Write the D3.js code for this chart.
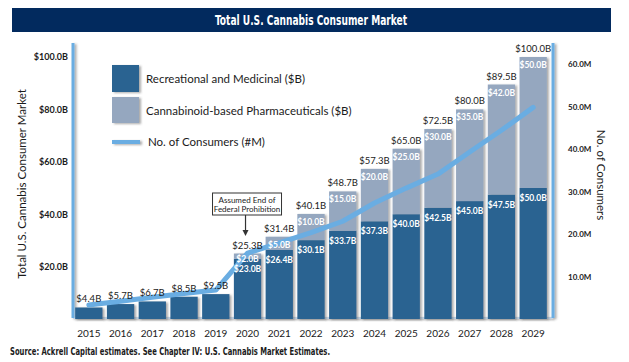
<!DOCTYPE html>
<html>
<head>
<meta charset="utf-8">
<script src="https://cdn.jsdelivr.net/npm/d3@7"></script>
<style>
  html, body { margin: 0; padding: 0; background: #fff; }
  svg { display: block; }
</style>
</head>
<body>
<div id="chart"></div>
<script>
// ─── DATA ───
const years = ['2015', '2016', '2017', '2018', '2019', '2020', '2021', '2022',
               '2023', '2024', '2025', '2026', '2027', '2028', '2029'];
const recValues = [4.4, 5.7, 6.7, 8.5, 9.5, 23.0, 26.4, 30.1, 33.7, 37.3, 40.0, 42.5, 45.0, 47.5, 50.0];
const pharmaValues = [0, 0, 0, 0, 0, 2.0, 5.0, 10.0, 15.0, 20.0, 25.0, 30.0, 35.0, 42.0, 50.0];
const totalValues = [4.4, 5.7, 6.7, 8.5, 9.5, 25.3, 31.4, 40.1, 48.7, 57.3, 65.0, 72.5, 80.0, 89.5, 100.0];
const consumers = [3.3, 4.2, 5.1, 6.0, 6.8, 15.5, 17.9, 20.3, 23.0, 27.3, 30.8, 34.1, 39.3, 44.4, 49.8];
const leftTicks = [20, 40, 60, 80, 100];
const rightTicks = [10, 20, 30, 40, 50, 60];
const legendItems = ['Recreational and Medicinal ($B)', 'Cannabinoid-based Pharmaceuticals ($B)', 'No. of Consumers (#M)'];
const annotationLines = ['Assumed End of', 'Federal Prohibition'];
const annotationYear = '2020';

const W = 629, H = 362;
const colRec = '#2b6391', colPharma = '#95a7bf', colLine = '#6aade2', colText = '#1b1b1b';
const font = 'Lato, "Open Sans", sans-serif';
const condensed = '"Liberation Sans Narrow", "DejaVu Sans Condensed", sans-serif';

const svg = d3.select('#chart').append('svg').attr('width', W).attr('height', H);

const defs = svg.append('defs');
const shadow = defs.append('filter').attr('id', 'shadow')
    .attr('filterUnits', 'userSpaceOnUse').attr('x', 0).attr('y', 0).attr('width', W).attr('height', H);
shadow.append('feDropShadow').attr('dx', 2).attr('dy', 1).attr('stdDeviation', 1)
    .attr('flood-color', '#444').attr('flood-opacity', 0.45);

// ─── TITLE ───
svg.append('rect').attr('x', 12).attr('y', 8).attr('width', 599).attr('height', 24).attr('fill', '#022a5e');
svg.append('text').attr('x', 311).attr('y', 25).attr('text-anchor', 'middle')
    .attr('font-family', condensed).attr('font-weight', 'bold').attr('font-size', 14)
    .attr('fill', '#fff').attr('textLength', 192).attr('lengthAdjust', 'spacingAndGlyphs')
    .text('Total U.S. Cannabis Consumer Market');

// ─── SCALES ───
const x = d3.scaleBand().domain(years).range([72, 550]).paddingInner(0.14).paddingOuter(0.1);
const y = d3.scaleLinear().domain([0, 100]).range([319, 57]);
const y2 = d3.scaleLinear().domain([0, 60]).range([319, 64]);
const cx = d => x(d) + x.bandwidth() / 2;

// ─── AXES ───
svg.append('g').attr('transform', 'translate(68,0)')
    .call(d3.axisLeft(y).tickValues(leftTicks).tickSize(0).tickPadding(0).tickFormat(d => `$${d.toFixed(1)}B`))
    .call(g => g.select('.domain').remove())
    .call(g => g.selectAll('text').attr('font-family', font).attr('font-weight', 'bold')
        .attr('font-size', 9).attr('fill', colText));

svg.append('g').attr('transform', 'translate(568,0)')
    .call(d3.axisRight(y2).tickValues(rightTicks).tickSize(0).tickPadding(0).tickFormat(d => `${d.toFixed(1)}M`))
    .call(g => g.select('.domain').remove())
    .call(g => g.selectAll('text').attr('font-family', font).attr('font-weight', 'bold')
        .attr('font-size', 8).attr('fill', colText));

svg.append('g').attr('transform', 'translate(0,330)')
    .call(d3.axisBottom(x).tickSize(0).tickPadding(0))
    .call(g => g.select('.domain').remove())
    .call(g => g.selectAll('text').attr('font-family', font).attr('font-size', 10).attr('fill', colText));

// axis titles
svg.append('text').attr('transform', 'translate(26,184) rotate(-90)').attr('text-anchor', 'middle')
    .attr('font-family', font).attr('font-size', 11.5).attr('fill', colText)
    .text('Total U.S. Cannabis Consumer Market');
svg.append('text').attr('transform', 'translate(597,175) rotate(90)').attr('text-anchor', 'middle')
    .attr('font-family', font).attr('font-size', 11.5).attr('fill', colText)
    .text('No. of Consumers');

// frame lines
const frame = svg.append('g').attr('filter', 'url(#shadow)');
frame.append('line').attr('x1', 73).attr('x2', 553).attr('y1', 318).attr('y2', 318)
    .attr('stroke', '#c4d6e8').attr('stroke-width', 2);
frame.append('line').attr('x1', 73).attr('x2', 73).attr('y1', 43).attr('y2', 318)
    .attr('stroke', colLine).attr('stroke-width', 3);
frame.append('line').attr('x1', 553).attr('x2', 553).attr('y1', 43).attr('y2', 318)
    .attr('stroke', colLine).attr('stroke-width', 3);

// ─── BARS ───
const rows = years.map((yr, i) => ({
    year: yr, rec: recValues[i], pharma: pharmaValues[i], total: totalValues[i], cons: consumers[i]
}));

const bars = svg.append('g').attr('filter', 'url(#shadow)');
bars.selectAll('.rec').data(rows).enter().append('rect')
    .attr('x', d => x(d.year)).attr('width', x.bandwidth())
    .attr('y', d => y(d.rec)).attr('height', d => y(0) - y(d.rec))
    .attr('fill', colRec);
bars.selectAll('.pharma').data(rows.filter(d => d.pharma > 0)).enter().append('rect')
    .attr('x', d => x(d.year)).attr('width', x.bandwidth())
    .attr('y', d => y(d.rec + d.pharma)).attr('height', d => y(d.rec) - y(d.rec + d.pharma))
    .attr('fill', colPharma);

// ─── CONSUMERS LINE ───
const line = d3.line().x(d => cx(d.year)).y(d => y2(d.cons));
svg.append('path').datum(rows).attr('d', line)
    .attr('fill', 'none').attr('stroke', colLine).attr('stroke-width', 5)
    .attr('stroke-linecap', 'round').attr('stroke-linejoin', 'round');

// ─── LABELS ───
const labels = svg.append('g').attr('font-family', font).attr('text-anchor', 'middle');
labels.selectAll('.tot').data(rows).enter().append('text')
    .attr('x', d => cx(d.year)).attr('y', d => y(d.rec + d.pharma) - 5)
    .attr('font-size', 9.5).attr('fill', colText)
    .text(d => `$${d.total.toFixed(1)}B`);
labels.selectAll('.ph').data(rows.filter(d => d.pharma > 0)).enter().append('text')
    .attr('x', d => cx(d.year)).attr('y', d => Math.min(y(d.rec + d.pharma) + 11, y(d.rec) + 3))
    .attr('font-size', 8.5).attr('font-weight', 'bold').attr('fill', '#fff')
    .text(d => `$${d.pharma.toFixed(1)}B`);
labels.selectAll('.rc').data(rows.filter(d => d.pharma > 0)).enter().append('text')
    .attr('x', d => cx(d.year)).attr('y', d => y(d.rec) + 13)
    .attr('font-size', 8.5).attr('font-weight', 'bold').attr('fill', '#fff')
    .text(d => `$${d.rec.toFixed(1)}B`);

// ─── ANNOTATION ───
const ax = cx(annotationYear);
const ann = svg.append('g');
ann.append('rect').attr('x', ax - 35).attr('y', 193).attr('width', 69).attr('height', 22)
    .attr('fill', '#fff').attr('stroke', '#333').attr('stroke-width', 1);
ann.selectAll('text').data(annotationLines).enter().append('text')
    .attr('x', ax - 0.5).attr('y', (d, i) => 202.5 + i * 9).attr('text-anchor', 'middle')
    .attr('font-family', font).attr('font-size', 8).attr('fill', colText).text(d => d);
ann.append('line').attr('x1', ax - 2).attr('x2', ax - 2).attr('y1', 215).attr('y2', 232)
    .attr('stroke', '#333').attr('stroke-width', 1.2);
ann.append('path').attr('d', `M${ax - 5},230 L${ax + 1},230 L${ax - 2},236 Z`).attr('fill', '#333');

// ─── LEGEND ───
const legend = svg.append('g').attr('font-family', font).attr('font-size', 11.5).attr('fill', colText);
legend.append('rect').attr('x', 112).attr('y', 65).attr('width', 27).attr('height', 27)
    .attr('fill', colRec).attr('filter', 'url(#shadow)');
legend.append('rect').attr('x', 112).attr('y', 97).attr('width', 27).attr('height', 26)
    .attr('fill', colPharma).attr('filter', 'url(#shadow)');
legend.append('rect').attr('x', 112).attr('y', 140).attr('width', 28).attr('height', 4)
    .attr('fill', colLine).attr('filter', 'url(#shadow)');
legend.selectAll('text').data(legendItems).enter().append('text')
    .attr('x', (d, i) => i === 2 ? 148 : 146)
    .attr('y', (d, i) => [83, 115, 146][i])
    .text(d => d);

// ─── SOURCE ───
svg.append('text').attr('x', 10).attr('y', 355)
    .attr('font-family', condensed).attr('font-weight', 'bold').attr('font-size', 10.5)
    .attr('fill', colText).attr('textLength', 320).attr('lengthAdjust', 'spacingAndGlyphs')
    .text('Source: Ackrell Capital estimates. See Chapter IV: U.S. Cannabis Market Estimates.');
</script>
</body>
</html>
